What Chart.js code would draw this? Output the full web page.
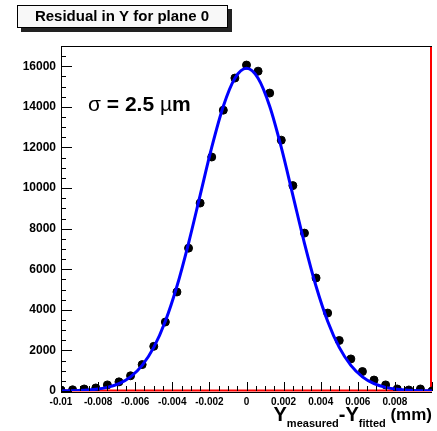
<!DOCTYPE html>
<html>
<head>
<meta charset="utf-8">
<script src="https://cdn.jsdelivr.net/npm/chart.js@4.4.0/dist/chart.umd.min.js"></script>
<style>
    html, body { margin: 0; padding: 0; background: #fff; }
</style>
</head>
<body>
<canvas id="residualChart" width="437" height="431"></canvas>
<script>
// bin positions (mm) and counts
const binX = [-0.01, -0.009375, -0.00875, -0.008125, -0.0075, -0.006875, -0.00625, -0.005625,
    -0.005, -0.004375, -0.00375, -0.003125, -0.0025, -0.001875, -0.00125, -0.000625, 0,
    0.000625, 0.00125, 0.001875, 0.0025, 0.003125, 0.00375, 0.004375, 0.005, 0.005625,
    0.00625, 0.006875, 0.0075, 0.008125, 0.00875, 0.009375, 0.01];
const counts = [50, 60, 100, 150, 300, 450, 750, 1300, 2200, 3400, 4880, 7040, 9260, 11530,
    13840, 15420, 16060, 15760, 14680, 12360, 10120, 7780, 5570, 3840, 2490, 1580, 960, 540,
    300, 100, 50, 100, 0];
const fitCounts = [5, 14, 35, 81, 177, 362, 698, 1265, 2150, 3440, 5160, 7280, 9640, 12000,
    14030, 15410, 15900, 15410, 14030, 12000, 9640, 7280, 5160, 3440, 2150, 1265, 698, 362,
    177, 81, 35, 14, 5];
const xTickValues = [-0.01, -0.008, -0.006, -0.004, -0.002, 0, 0.002, 0.004, 0.006, 0.008];
const yTickValues = [0, 2000, 4000, 6000, 8000, 10000, 12000, 14000, 16000];

const FONT = '"Liberation Sans", Arial, sans-serif';

/**
 * ROOT style frame, inner ticks, title box and labels
 */
const rootFrame = {
    id: 'rootFrame',
    beforeDatasetsDraw(chart) {
        const { ctx, chartArea: a } = chart;
        ctx.save();
        ctx.strokeStyle = '#ff0000';
        ctx.lineWidth = 2;
        ctx.beginPath();
        ctx.moveTo(a.left, a.bottom - 0.5);
        ctx.lineTo(a.right, a.bottom - 0.5);
        ctx.moveTo(a.right - 1, a.top);
        ctx.lineTo(a.right - 1, a.bottom);
        ctx.stroke();
        ctx.restore();
    },
    afterDraw(chart) {
        const { ctx, chartArea: a, scales } = chart;
        const x = scales.x, y = scales.y;
        ctx.save();

        // frame: top, left, bottom
        ctx.strokeStyle = '#000';
        ctx.lineWidth = 1;
        ctx.beginPath();
        ctx.moveTo(a.left, a.top + 0.5);
        ctx.lineTo(a.right, a.top + 0.5);
        ctx.moveTo(a.left + 0.5, a.top);
        ctx.lineTo(a.left + 0.5, a.bottom + 1);
        ctx.moveTo(a.left, a.bottom + 1.5);
        ctx.lineTo(a.right, a.bottom + 1.5);
        ctx.stroke();

        // y ticks (inside, major every 2000, minor every 500)
        ctx.beginPath();
        for (let v = 0; v <= 17000; v += 500) {
            const py = Math.round(y.getPixelForValue(v)) + 0.5;
            const len = v % 2000 === 0 ? 11 : 5;
            ctx.moveTo(a.left, py);
            ctx.lineTo(a.left + len, py);
        }
        // x ticks (inside, major every 0.002, minor every 0.0005)
        for (let i = -20; i <= 20; i++) {
            const px = Math.round(x.getPixelForValue(i * 0.0005)) + 0.5;
            const len = i % 4 === 0 ? 9 : 5;
            ctx.moveTo(px, a.bottom);
            ctx.lineTo(px, a.bottom - len);
        }
        ctx.stroke();

        // title box with shadow
        ctx.fillStyle = '#222';
        ctx.fillRect(21, 9, 211, 23);
        ctx.fillStyle = '#f8f8f8';
        ctx.fillRect(17, 5, 211, 23);
        ctx.strokeStyle = '#000';
        ctx.strokeRect(17.5, 5.5, 210, 22);
        ctx.fillStyle = '#000';
        ctx.font = 'bold 15px ' + FONT;
        ctx.textAlign = 'center';
        ctx.textBaseline = 'middle';
        ctx.fillText('Residual in Y for plane 0', 122, 17);

        // sigma label
        ctx.textAlign = 'left';
        ctx.textBaseline = 'alphabetic';
        let tx = 88;
        const parts = [
            ['σ', 'normal 21px ' + FONT],
            [' = 2.5 ', 'bold 21px ' + FONT],
            ['µ', 'normal 21px ' + FONT],
            ['m', 'bold 21px ' + FONT]
        ];
        parts.forEach(function (p) {
            ctx.font = p[1];
            ctx.fillText(p[0], tx, 111);
            tx += ctx.measureText(p[0]).width;
        });

        // x axis title: Y_measured - Y_fitted (mm), right aligned to frame
        const big = 'bold 20px ' + FONT;
        const small = 'bold 11px ' + FONT;
        const unit = 'bold 17px ' + FONT;
        const pieces = [
            ['Y', big, 0],
            ['measured', small, 6],
            ['-Y', big, 0],
            ['fitted', small, 6],
            [' (mm)', unit, -1]
        ];
        let total = 0;
        pieces.forEach(function (p) {
            ctx.font = p[1];
            total += ctx.measureText(p[0]).width;
        });
        tx = a.right - total;
        pieces.forEach(function (p) {
            ctx.font = p[1];
            ctx.fillText(p[0], tx, 421 + p[2]);
            tx += ctx.measureText(p[0]).width;
        });

        ctx.restore();
    }
};

const ctx = document.getElementById('residualChart');
new Chart(ctx, {
    type: 'scatter',
    data: {
        datasets: [{
            label: 'fit',
            type: 'line',
            data: binX.map((v, i) => ({ x: v, y: fitCounts[i] })),
            borderColor: '#0000ff',
            borderWidth: 3,
            pointRadius: 0,
            cubicInterpolationMode: 'monotone',
            fill: false,
            order: 0
        }, {
            label: 'residuals',
            data: binX.map((v, i) => ({ x: v, y: counts[i] })),
            backgroundColor: '#000',
            borderColor: '#000',
            pointRadius: 4,
            order: 1
        }]
    },
    options: {
        responsive: false,
        animation: false,
        devicePixelRatio: 1,
        layout: {
            padding: { top: 46, right: 3, left: 0, bottom: 0 }
        },
        plugins: {
            legend: { display: false },
            tooltip: { enabled: false }
        },
        scales: {
            x: {
                type: 'linear',
                min: -0.01,
                max: 0.01,
                grid: { display: false, drawTicks: false },
                border: { display: false },
                afterFit: function (scale) { scale.height = 40; },
                afterBuildTicks: function (scale) {
                    scale.ticks = xTickValues.map(v => ({ value: v }));
                },
                ticks: {
                    padding: 5,
                    maxRotation: 0,
                    autoSkip: false,
                    color: '#000',
                    font: { family: FONT, size: 10, weight: 'bold' },
                    callback: function (v) { return String(Number(v.toFixed(3))); }
                }
            },
            y: {
                min: 0,
                max: 17000,
                grid: { display: false, drawTicks: false },
                border: { display: false },
                afterFit: function (scale) { scale.width = 61; },
                afterBuildTicks: function (scale) {
                    scale.ticks = yTickValues.map(v => ({ value: v }));
                },
                ticks: {
                    padding: 5,
                    color: '#000',
                    font: { family: FONT, size: 12, weight: 'bold' },
                    callback: function (v) { return String(v); }
                }
            }
        }
    },
    plugins: [rootFrame]
});
</script>
</body>
</html>
